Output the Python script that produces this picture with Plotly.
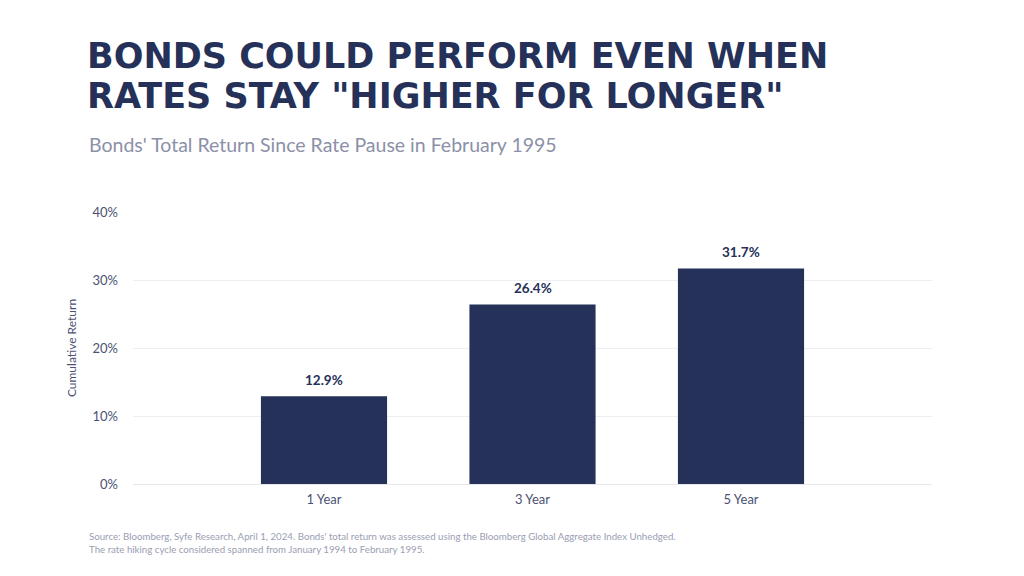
import plotly.graph_objects as go

categories = ["1 Year", "3 Year", "5 Year"]
returns = [12.9, 26.4, 31.7]
value_labels = ["12.9%", "26.4%", "31.7%"]
y_ticks = [0, 10, 20, 30, 40]
y_tick_labels = ["0%", "10%", "20%", "30%", "40%"]

NAVY = "#253158"
OFF = 8  # page body margin
W, H = 1024 - OFF, 576 - OFF
L, R, T, B = 133 - OFF, 92, 212 - OFF, 92
PW, PH = W - L - R, H - T - B

def px(x):
    return (x - OFF - L) / PW

def py(y):
    return (H - B - (y - OFF)) / PH

fig = go.Figure()
fig.add_trace(go.Bar(
    x=categories, y=returns, width=0.605,
    marker=dict(color=NAVY, line=dict(width=0)),
    hoverinfo="skip",
))
for c, v, t in zip(categories, returns, value_labels):
    fig.add_annotation(x=c, y=v, text=t, showarrow=False, xref="x", yref="y",
                       yanchor="bottom", yshift=6,
                       font=dict(family="Lato", size=13.5, color=NAVY, weight="bold"))

fig.update_layout(
    width=W, height=H, autosize=False,
    margin=dict(l=L, r=R, t=T, b=B),
    paper_bgcolor="white", plot_bgcolor="white",
    showlegend=False,
    xaxis=dict(range=[-0.916, 2.916], showgrid=False, zeroline=False, showline=False,
               ticks="", ticklabelstandoff=6,
               tickfont=dict(family="Lato", size=13, color="#4a5273")),
    yaxis=dict(range=[0, 40], tickvals=y_ticks, ticktext=y_tick_labels,
               showgrid=True, gridcolor="#eceef4", gridwidth=1, zeroline=True,
               zerolinecolor="#e6e8ef", zerolinewidth=1,
               ticks="", ticklabelstandoff=14,
               tickfont=dict(family="Lato", size=13, color="#4a5273"),
               title=dict(text="Cumulative Return", standoff=13,
                          font=dict(family="Lato", size=12, color="#4a5273"))),
    font=dict(family="Lato"),
)

title_font = dict(family="DejaVu Sans", size=35, color=NAVY, weight="bold")
fig.add_annotation(text="BONDS COULD PERFORM EVEN WHEN", x=px(85), y=py(56),
                   xref="paper", yref="paper", xanchor="left", yanchor="middle",
                   showarrow=False, font=title_font)
fig.add_annotation(text='RATES STAY "HIGHER FOR LONGER"', x=px(85), y=py(96),
                   xref="paper", yref="paper", xanchor="left", yanchor="middle",
                   showarrow=False, font=title_font)
fig.add_annotation(text="Bonds' Total Return Since Rate Pause in February 1995",
                   x=px(87), y=py(144), xref="paper", yref="paper",
                   xanchor="left", yanchor="middle", showarrow=False,
                   font=dict(family="Lato", size=19.5, color="#8c90a8"))
fig.add_annotation(text="Source: Bloomberg, Syfe Research, April 1, 2024. Bonds' total return was assessed using the Bloomberg Global Aggregate Index Unhedged.<br>The rate hiking cycle considered spanned from January 1994 to February 1995.",
                   x=px(87), y=py(528), xref="paper", yref="paper",
                   xanchor="left", yanchor="top", align="left", showarrow=False,
                   font=dict(family="Lato", size=9.7, color="#9a9eb2"))

fig.write_html("out.html")
